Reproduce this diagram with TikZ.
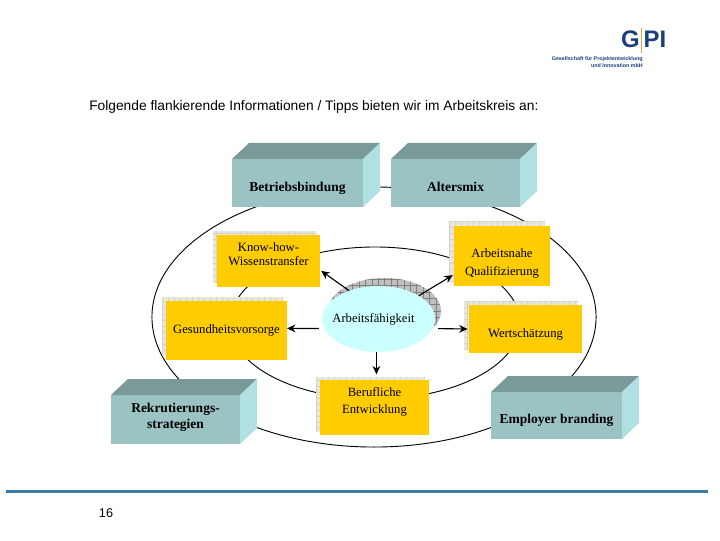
\documentclass[tikz,border=0pt]{standalone}
\usepackage{fontspec}
\setmainfont{Liberation Serif}
\newfontfamily\headfont{Liberation Sans}
\usetikzlibrary{arrows.meta,calc,shapes.geometric}
\definecolor{blockfront}{HTML}{9CC3C4}
\definecolor{blocktop}{HTML}{7A9A9A}
\definecolor{blockside}{HTML}{B0E0E2}
\definecolor{tipyellow}{HTML}{FFCC00}
\definecolor{workcyan}{HTML}{CCFFFF}
\definecolor{rulecolor}{HTML}{3D7AA5}
\definecolor{logoblue}{HTML}{1C3F7C}
\definecolor{logobar}{HTML}{E8A33C}
\definecolor{shadowfill}{HTML}{E9E7DC}
\definecolor{shadowgrid}{HTML}{D4D4CE}
\tikzset{
  blockbox/.style={rectangle, fill=blockfront, inner sep=0pt, outer sep=0pt},
  tipbox/.style={rectangle, fill=tipyellow, inner sep=0pt, outer sep=0pt},
  ringline/.style={ellipse, draw=black, line width=0.65pt, inner sep=0pt},
  gridshadow/.style={rectangle, fill=shadowfill, inner sep=0pt, outer sep=0pt,
    path picture={\draw[shadowgrid, line width=0.2pt] (path picture bounding box.south west) grid[step=0.15cm] (path picture bounding box.north east);}},
  workshadow/.style={ellipse, fill=black!25, inner sep=0pt, outer sep=0pt,
    path picture={\draw[black!50, line width=0.25pt] (path picture bounding box.south west) grid[step=0.16cm] (path picture bounding box.north east);}},
  blocktext/.style={font=\fontsize{9.6}{11}\selectfont\bfseries, align=center},
  tiptext/.style={font=\fontsize{9}{10}\selectfont, align=center},
  tiparrow/.style={->, line width=0.8pt},
}
\newcommand{\blockfaces}[1]{
  \fill[blocktop] (#1.north west) -- ++(17,-16) -- ($(#1.north east)+(17,-16)$) -- (#1.north east) -- cycle;
  \fill[blockside] (#1.north east) -- ++(17,-16) -- ($(#1.south east)+(17,-16)$) -- (#1.south east) -- cycle;
}
\begin{document}
\begin{tikzpicture}[>={Stealth[length=6pt,width=5.5pt]}, x=0.025cm, y=-0.025cm]
  \useasboundingbox (0,0) rectangle (720,540);

  % logo and heading
  \node[font=\headfont\fontsize{17}{17}\selectfont\bfseries, text=logoblue] (logog) at (630.5,39) {G};
  \node[font=\headfont\fontsize{17}{17}\selectfont\bfseries, text=logoblue] (logopi) at (655,39) {PI};
  \coordinate (bartop) at (641,28);
  \coordinate (barbottom) at (641,53);
  \draw[logobar, line width=0.7pt] (bartop) -- (barbottom);
  \node[font=\headfont\fontsize{3.8}{5}\selectfont\bfseries, text=logoblue, align=right, anchor=north east, inner sep=0pt] (logotext) at (643,56) {Gesellschaft für Projektentwicklung\\und Innovation mbH};
  \node[font=\headfont\fontsize{9.8}{11}\selectfont, anchor=west, inner sep=0pt] (heading) at (89,107) {Folgende flankierende Informationen / Tipps bieten wir im Arbeitskreis an:};

  % the two rings
  \node[ringline, minimum width=11.1cm, minimum height=6.5cm] (outer) at (374,317) {};
  \node[ringline, minimum width=7.25cm, minimum height=3.8cm] (inner) at (375,323) {};

  % shadows behind the yellow boxes
  \node[gridshadow, minimum width=2.575cm, minimum height=1.3cm] (knowhowsh) at (264.5,257) {};
  \node[gridshadow, minimum width=2.4cm, minimum height=1.5cm] (nahesh) at (497,251) {};
  \node[gridshadow, minimum width=2.825cm, minimum height=1.2cm] (wertsh) at (521,325) {};
  \node[gridshadow, minimum width=3.025cm, minimum height=1.475cm] (gesundsh) at (222.5,326.5) {};
  \node[gridshadow, minimum width=2.725cm, minimum height=1.375cm] (berufsh) at (370.5,404.5) {};
  \node[workshadow, minimum width=2.825cm, minimum height=1.65cm] (worksh) at (384.5,311) {};

  % yellow boxes
  \node[tipbox, minimum width=2.575cm, minimum height=1.3cm, label={[tiptext, yshift=0.175cm]center:{Know-how-\\Wissenstransfer}}] (knowhow) at (268.5,261) {};
  \node[tipbox, minimum width=2.4cm, minimum height=1.5cm, label={[tiptext, yshift=-0.19cm]center:{Arbeitsnahe\\[2.5pt]Qualifizierung}}] (nahe) at (502,256) {};
  \node[tipbox, minimum width=2.825cm, minimum height=1.2cm, label={[tiptext, yshift=-0.125cm]center:Wertschätzung}] (wert) at (525.5,329) {};
  \node[tipbox, minimum width=3.025cm, minimum height=1.475cm, label={[tiptext]center:Gesundheitsvorsorge}] (gesund) at (226.5,330.5) {};
  \node[tipbox, minimum width=2.725cm, minimum height=1.375cm, label={[tiptext, yshift=0.15cm]center:{Berufliche\\[2pt]Entwicklung}}] (beruf) at (374.5,407.5) {};

  % middle
  \node[ellipse, fill=workcyan, inner sep=0pt, outer sep=0pt, minimum width=2.825cm, minimum height=1.65cm, label={[tiptext, xshift=-0.125cm, yshift=0]center:Arbeitsfähigkeit}] (work) at (378.5,319) {};

  % teal blocks
  \node[blockbox, minimum width=3.275cm, minimum height=1.2cm, label={[blocktext, yshift=-0.13cm]center:Betriebsbindung}] (betrieb) at (297.5,183) {};
  \node[blockbox, minimum width=3.225cm, minimum height=1.2cm, label={[blocktext, yshift=-0.1cm]center:Altersmix}] (alter) at (455.5,183) {};
  \node[blockbox, minimum width=3.225cm, minimum height=1.225cm, label={[blocktext, yshift=0.05cm]center:{Rekrutierungs-\\strategien}}] (rekrut) at (175.5,419.5) {};
  \node[blockbox, minimum width=3.275cm, minimum height=1.175cm, label={[blocktext, yshift=-0.11cm]center:Employer branding}] (employer) at (556.5,415.5) {};
  \foreach \name in {betrieb,alter,rekrut,employer} {
    \blockfaces{\name}
  }

  % arrows
  \draw[tiparrow, shorten >=1pt] (work.136) -- (knowhow.-10);
  \draw[tiparrow, shorten >=1pt] (work.30) -- (nahe.201);
  \draw[tiparrow, shorten <=4pt, shorten >=1pt] (work.-10) -- (wert.180);
  \draw[tiparrow, shorten <=4pt] (work.190) -- (gesund.2);
  \draw[tiparrow, shorten >=4pt] (beruf.86 |- work.south) -- (beruf.86);

  % footer
  \coordinate (ruleleft) at (6,491.5);
  \coordinate (ruleright) at (708,491.5);
  \draw[rulecolor, line width=2pt] (ruleleft) -- (ruleright);
  \node[font=\headfont\fontsize{9}{11}\selectfont] (pagenum) at (106,513) {16};
\end{tikzpicture}
\end{document}
